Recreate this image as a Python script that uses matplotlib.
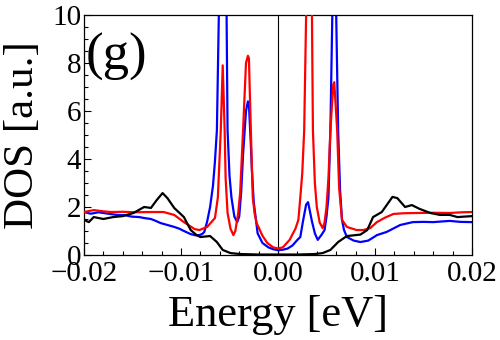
import matplotlib
matplotlib.use('Agg')
import matplotlib.pyplot as plt
from matplotlib.ticker import MultipleLocator, FuncFormatter

plt.rcParams['font.family'] = ['Liberation Serif', 'DejaVu Serif']

# blue curve
blue_e = [-0.0200, -0.0193, -0.0185, -0.0175, -0.0166, -0.0158, -0.0151, -0.0143,
          -0.0138, -0.0131, -0.0126, -0.0121, -0.0114, -0.0107, -0.0102, -0.0097,
          -0.0090, -0.0085, -0.0081, -0.0078, -0.0076, -0.0073, -0.0070, -0.0067,
          -0.0065, -0.0063, -0.0061, -0.0057, -0.0053, -0.0052, -0.0050, -0.0048,
          -0.0045, -0.0042, -0.0040, -0.0038, -0.0036, -0.0033, -0.0031, -0.0030,
          -0.0028, -0.0027, -0.0025, -0.0021, -0.0016, -0.0010, -0.0005, 0.0000,
          0.0005, 0.0010, 0.0015, 0.0020, 0.0023, 0.0026, 0.0029, 0.0031,
          0.0033, 0.0035, 0.0038, 0.0041, 0.0045, 0.0048, 0.0050, 0.0052,
          0.0054, 0.0056, 0.0058, 0.0060, 0.0062, 0.0064, 0.0066, 0.0068,
          0.0071, 0.0078, 0.0085, 0.0093, 0.0099, 0.0102, 0.0112, 0.0126,
          0.0139, 0.0150, 0.0160, 0.0170, 0.0177, 0.0188, 0.0200]
blue_dos = [1.79, 1.72, 1.78, 1.72, 1.67, 1.66, 1.60, 1.58,
            1.54, 1.50, 1.42, 1.33, 1.25, 1.17, 1.10, 1.00,
            0.87, 0.82, 0.83, 0.88, 0.96, 1.40, 2.00, 2.90,
            3.90, 5.20, 10.0, 15.0, 10.0, 5.20, 3.30, 2.40,
            1.60, 1.37, 1.60, 2.60, 4.20, 6.00, 6.40, 6.30,
            4.60, 3.60, 2.20, 0.90, 0.50, 0.32, 0.24, 0.20,
            0.22, 0.27, 0.40, 0.63, 0.75, 1.46, 2.10, 2.20,
            1.80, 1.40, 0.90, 0.63, 0.85, 1.04, 1.60, 2.40,
            5.20, 10.0, 15.0, 10.0, 5.20, 2.70, 1.46, 1.05,
            0.75, 0.60, 0.54, 0.60, 0.75, 0.83, 0.96, 1.25,
            1.37, 1.38, 1.37, 1.40, 1.42, 1.38, 1.37]

# red curve
red_e = [-0.0200, -0.0195, -0.0190, -0.0180, -0.0172, -0.0160, -0.0148, -0.0131,
         -0.0118, -0.0107, -0.0097, -0.0086, -0.0081, -0.0073, -0.0065, -0.0062,
         -0.0059, -0.0057, -0.0055, -0.0054, -0.0052, -0.0049, -0.0046, -0.0044,
         -0.0041, -0.0039, -0.0036, -0.0033, -0.0031, -0.0030, -0.0028, -0.0026,
         -0.0024, -0.0022, -0.0016, -0.0011, -0.0005, 0.0000, 0.0005, 0.0012,
         0.0018, 0.0021, 0.0023, 0.0025, 0.0027, 0.0029, 0.0032, 0.0035,
         0.0036, 0.0038, 0.0040, 0.0043, 0.0046, 0.0048, 0.0050, 0.0052,
         0.0054, 0.0057, 0.0058, 0.0061, 0.0063, 0.0066, 0.0071, 0.0081,
         0.0088, 0.0095, 0.0102, 0.0110, 0.0119, 0.0130, 0.0143, 0.0160,
         0.0177, 0.0190, 0.0200]
red_dos = [1.79, 1.83, 1.87, 1.82, 1.79, 1.80, 1.78, 1.79,
           1.79, 1.67, 1.37, 1.08, 1.04, 1.17, 1.54, 2.40,
           5.20, 7.90, 5.20, 3.20, 1.75, 1.10, 0.83, 1.00,
           1.75, 2.60, 5.20, 8.00, 8.30, 8.20, 5.20, 2.40,
           1.70, 1.33, 0.80, 0.50, 0.32, 0.27, 0.32, 0.63,
           1.10, 1.46, 2.40, 3.40, 5.20, 10.0, 16.0, 10.0,
           5.20, 3.00, 2.00, 1.35, 1.12, 1.35, 2.00, 3.20,
           5.20, 7.10, 7.20, 5.20, 2.80, 1.46, 1.17, 1.04,
           1.04, 1.12, 1.37, 1.55, 1.71, 1.74, 1.75, 1.76,
           1.75, 1.78, 1.79]

# black curve
black_e = [-0.0200, -0.0195, -0.0190, -0.0180, -0.0170, -0.0160, -0.0149, -0.0138,
           -0.0131, -0.0125, -0.0119, -0.0114, -0.0107, -0.0097, -0.0090, -0.0084,
           -0.0080, -0.0070, -0.0063, -0.0057, -0.0049, -0.0039, -0.0020, 0.0000,
           0.0020, 0.0038, 0.0046, 0.0054, 0.0062, 0.0071, 0.0085, 0.0092,
           0.0098, 0.0107, 0.0118, 0.0123, 0.0131, 0.0138, 0.0146, 0.0157,
           0.0167, 0.0177, 0.0185, 0.0200]
black_dos = [1.46, 1.37, 1.58, 1.50, 1.58, 1.62, 1.75, 2.00,
             1.96, 2.29, 2.58, 2.37, 1.96, 1.58, 1.04, 0.83,
             0.75, 0.79, 0.54, 0.21, 0.08, 0.04, 0.02, 0.02,
             0.02, 0.04, 0.08, 0.21, 0.54, 0.79, 0.85, 1.04,
             1.58, 1.79, 2.42, 2.37, 2.00, 2.08, 1.92, 1.75,
             1.67, 1.67, 1.58, 1.62]


def energy_label(v, pos):
    if abs(v) < 1e-9:
        v = 0.0
    return f'{v:.2f}'.replace('-', '\u2212')


fig = plt.figure(figsize=(5, 3.4), dpi=100)
ax = fig.add_axes([0.168, 0.25, 0.776, 0.706])

ax.axvline(0, color='black', lw=0.8, zorder=1)
ax.plot(blue_e, blue_dos, color='#0000ff', lw=1.6, zorder=2)
ax.plot(red_e, red_dos, color='#ff0000', lw=1.6, zorder=3)
ax.plot(black_e, black_dos, color='black', lw=1.6, zorder=4)

ax.set_xlim(-0.02, 0.02)
ax.set_ylim(0, 10)

ax.xaxis.set_major_locator(MultipleLocator(0.01))
ax.xaxis.set_minor_locator(MultipleLocator(0.002))
ax.xaxis.set_major_formatter(FuncFormatter(energy_label))
ax.yaxis.set_major_locator(MultipleLocator(2))
ax.yaxis.set_minor_locator(MultipleLocator(0.5))

ax.tick_params(which='both', direction='in', labelsize=21, width=0.8)
ax.tick_params(which='major', length=5)
ax.tick_params(which='minor', length=3)
ax.tick_params(axis='x', pad=4)
ax.tick_params(axis='y', pad=2)
for s in ax.spines.values():
    s.set_linewidth(0.9)

ax.set_xlabel('Energy [eV]', fontsize=32, labelpad=6)
ax.set_ylabel('DOS [a.u.]', fontsize=31, labelpad=7)

ax.text(0.005, 0.925, '(g)', transform=ax.transAxes, fontsize=38,
        ha='left', va='top')

fig.savefig('out.png', dpi=100)
